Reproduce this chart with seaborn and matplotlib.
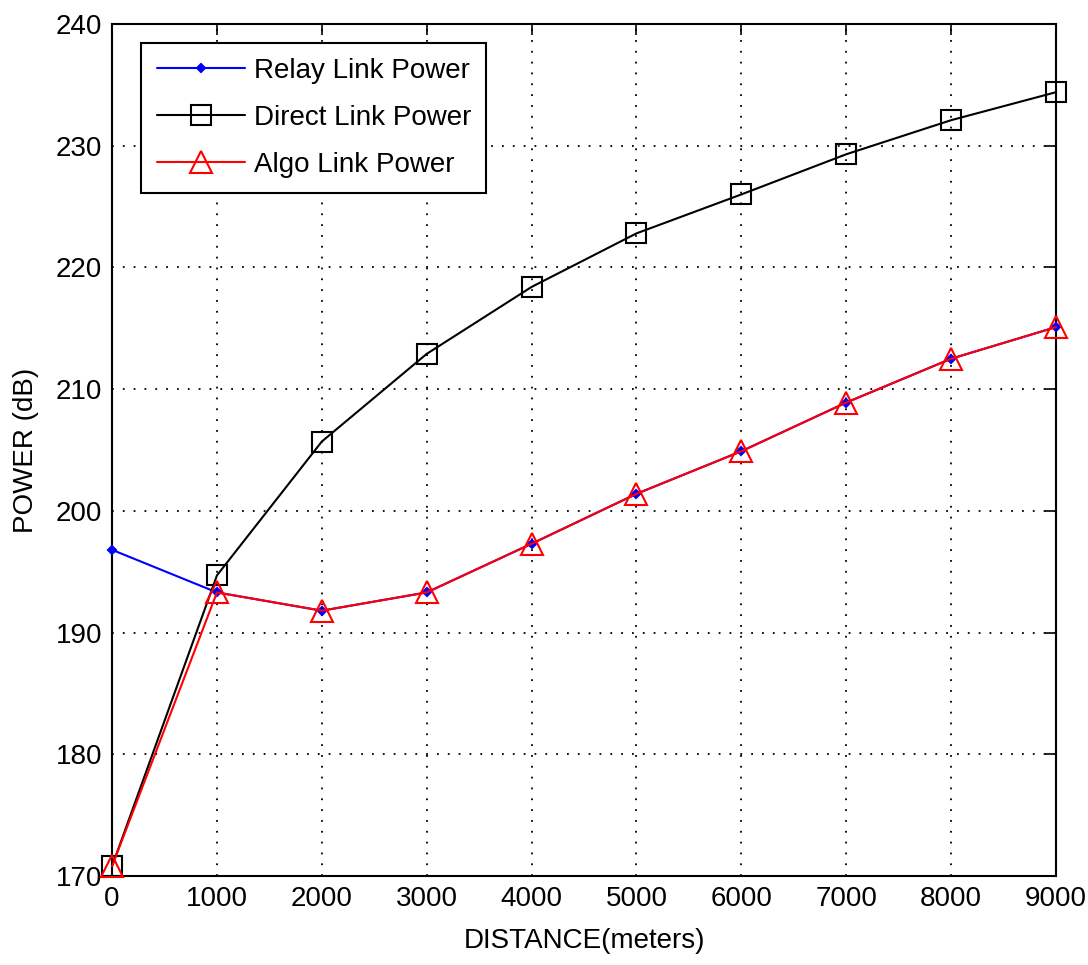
import matplotlib
matplotlib.use("Agg")
import matplotlib.pyplot as plt
import seaborn as sns
import pandas as pd

distance = [0, 1000, 2000, 3000, 4000, 5000, 6000, 7000, 8000, 9000]
relay_power = [196.8, 193.3, 191.8, 193.3, 197.3, 201.4, 204.9, 208.9, 212.5, 215.1]
direct_power = [170.8, 194.7, 205.7, 212.9, 218.4, 222.8, 226.0, 229.3, 232.1, 234.4]
algo_power = [170.8, 193.3, 191.8, 193.3, 197.3, 201.4, 204.9, 208.9, 212.5, 215.1]
series_names = ["Relay Link Power", "Direct Link Power", "Algo Link Power"]

sns.set_style("white")
plt.rcParams["font.family"] = ["Liberation Sans", "DejaVu Sans"]
plt.rcParams["text.color"] = "black"
plt.rcParams["axes.labelcolor"] = "black"
plt.rcParams["xtick.color"] = "black"
plt.rcParams["ytick.color"] = "black"

df = pd.DataFrame({
    "x": distance * 3,
    "y": relay_power + direct_power + algo_power,
    "s": [series_names[0]] * 10 + [series_names[1]] * 10 + [series_names[2]] * 10,
})

fig = plt.figure(figsize=(10.88, 9.65), dpi=100)
ax = fig.add_axes([0.103, 0.0922, 0.8676, 0.8829])

styles = {
    series_names[0]: dict(color="blue", marker="D", markersize=4, mfc="blue", mec="blue"),
    series_names[1]: dict(color="black", marker="s", markersize=15, mfc="none", mec="black"),
    series_names[2]: dict(color="red", marker="^", markersize=16, mfc="none", mec="red"),
}
for name in series_names:
    sub = df[df["s"] == name]
    st = styles[name]
    sns.lineplot(data=sub, x="x", y="y", ax=ax, color=st["color"], marker=st["marker"],
                 markersize=st["markersize"], markerfacecolor=st["mfc"],
                 markeredgecolor=st["mec"], markeredgewidth=1.5, linewidth=1.5,
                 label=name, estimator=None, sort=False, clip_on=False, zorder=3)

ax.set_xlim(0, 9000)
ax.set_ylim(170, 240)
ax.set_xticks(distance)
ax.set_yticks(range(170, 241, 10))
ax.set_axisbelow(True)
ax.grid(True, color="black", linestyle=(0, (1, 5)), linewidth=1.3)
ax.tick_params(direction="in", length=8, width=1.2, labelsize=20, top=True, right=True, pad=7)
for sp in ax.spines.values():
    sp.set_color("black")
    sp.set_linewidth(1.5)
    sp.set_zorder(2.5)
ax.set_xlabel("DISTANCE(meters)", fontsize=20, labelpad=12)
ax.set_ylabel("POWER (dB)", fontsize=20, labelpad=12)

leg = ax.legend(loc="upper left", bbox_to_anchor=(0.031, 0.978), fontsize=20, frameon=True,
                fancybox=False, edgecolor="black", handlelength=3.2, handletextpad=0.3,
                borderpad=0.55, labelspacing=0.75, borderaxespad=0)
leg.get_frame().set_linewidth(1.5)
leg.get_frame().set_alpha(1)
leg.set_zorder(5)

fig.savefig("out.png", dpi=100)
